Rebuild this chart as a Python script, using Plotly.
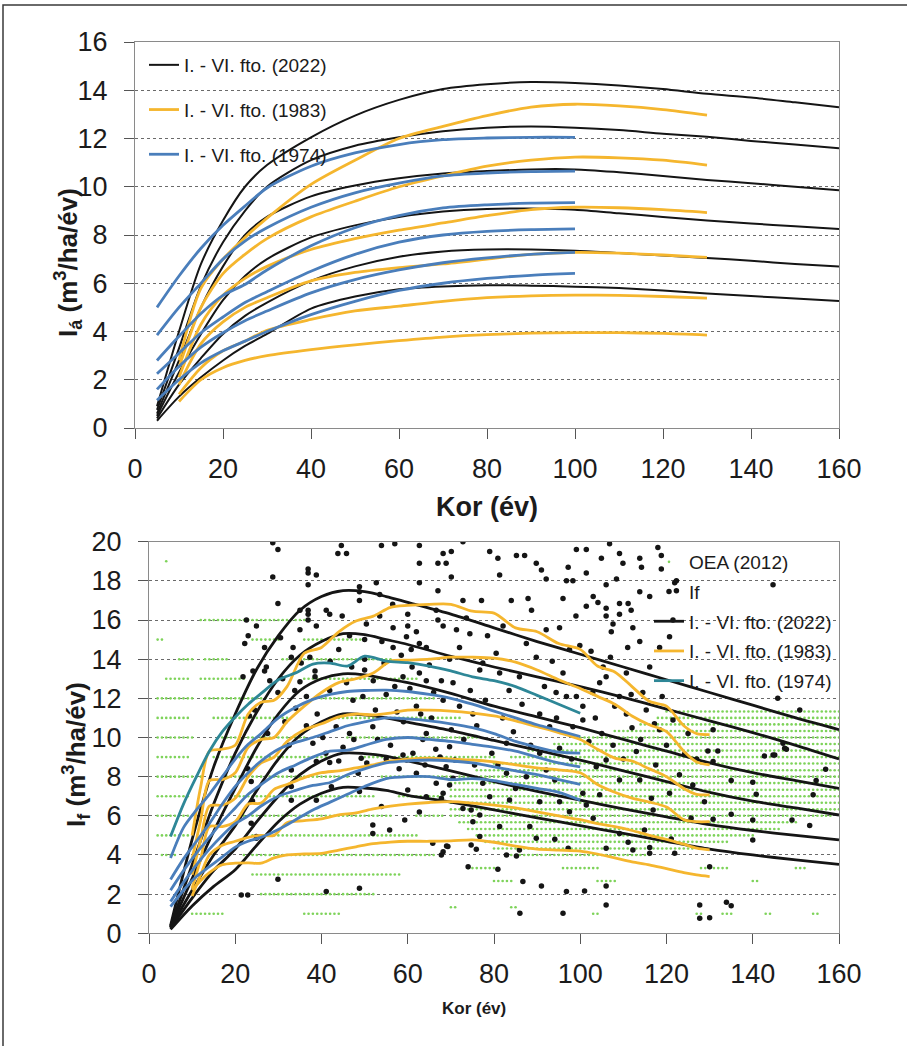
import plotly.graph_objects as go

# ---------------------------------------------------------------- data
# Upper panel: mean annual increment (I_á) by yield class
TOP_AGE_2022 = [5, 10, 15, 20, 25, 30, 40, 50, 60, 70, 80, 90, 100, 110, 120, 130, 140, 150, 160]
TOP_2022 = [
    [0.9, 4.0, 6.8, 8.6, 10.0, 10.9, 12.05, 12.95, 13.6, 14.05, 14.25, 14.34, 14.3, 14.2, 14.05, 13.85, 13.7, 13.5, 13.3],
    [0.75, 3.3, 5.9, 7.7, 9.0, 10.0, 11.1, 11.7, 12.05, 12.3, 12.45, 12.5, 12.45, 12.35, 12.2, 12.07, 11.9, 11.75, 11.6],
    [0.6, 2.8, 5.0, 6.7, 8.0, 8.75, 9.6, 10.05, 10.35, 10.55, 10.65, 10.72, 10.72, 10.6, 10.45, 10.28, 10.15, 10.0, 9.86],
    [0.5, 2.3, 3.9, 5.3, 6.3, 7.0, 7.9, 8.4, 8.75, 8.97, 9.08, 9.1, 9.05, 8.9, 8.75, 8.6, 8.48, 8.36, 8.25],
    [0.4, 1.8, 2.9, 3.9, 4.65, 5.2, 6.1, 6.7, 7.1, 7.32, 7.4, 7.4, 7.35, 7.25, 7.15, 7.05, 6.93, 6.8, 6.69],
    [0.3, 1.3, 2.1, 2.8, 3.4, 3.9, 4.95, 5.45, 5.75, 5.87, 5.92, 5.9, 5.86, 5.8, 5.7, 5.58, 5.47, 5.37, 5.26],
]
TOP_AGE_1983 = [10, 15, 20, 25, 30, 40, 50, 60, 70, 80, 90, 100, 110, 120, 130]
TOP_1983 = [
    [2.8, 5.8, 7.0, 7.9, 8.7, 10.1, 11.1, 12.0, 12.5, 12.95, 13.3, 13.42, 13.35, 13.2, 12.97],
    [2.5, 5.0, 6.4, 7.2, 7.85, 8.75, 9.4, 10.0, 10.45, 10.85, 11.1, 11.23, 11.2, 11.1, 10.9],
    [2.1, 4.3, 5.5, 6.2, 6.7, 7.4, 7.85, 8.2, 8.5, 8.8, 9.05, 9.15, 9.13, 9.05, 8.93],
    [1.8, 3.5, 4.4, 5.0, 5.4, 6.1, 6.45, 6.65, 6.8, 7.0, 7.2, 7.28, 7.25, 7.17, 7.07],
    [1.4, 2.5, 3.2, 3.6, 4.05, 4.5, 4.85, 5.05, 5.25, 5.4, 5.48, 5.51, 5.5, 5.45, 5.38],
    [1.1, 2.0, 2.5, 2.8, 3.0, 3.25, 3.45, 3.62, 3.77, 3.87, 3.93, 3.95, 3.95, 3.92, 3.85],
]
TOP_AGE_1974 = [5, 10, 15, 20, 25, 30, 40, 50, 60, 70, 80, 90, 100]
TOP_1974 = [
    [5.0, 6.3, 7.45, 8.4, 9.2, 9.95, 10.85, 11.4, 11.75, 11.95, 12.02, 12.05, 12.05],
    [3.85, 5.0, 6.0, 7.0, 7.75, 8.3, 9.15, 9.75, 10.15, 10.45, 10.57, 10.63, 10.65],
    [2.8, 3.8, 4.75, 5.5, 5.95, 6.55, 7.55, 8.3, 8.8, 9.12, 9.25, 9.32, 9.34],
    [2.25, 3.1, 3.95, 4.6, 5.2, 5.65, 6.5, 7.2, 7.7, 8.0, 8.15, 8.22, 8.25],
    [1.6, 2.55, 3.35, 3.95, 4.45, 4.85, 5.6, 6.15, 6.55, 6.85, 7.05, 7.2, 7.28],
    [1.15, 2.0, 2.7, 3.2, 3.6, 4.0, 4.7, 5.25, 5.7, 6.0, 6.2, 6.33, 6.41],
]

# Lower panel: current annual increment (I_f) by yield class
BOT_AGE_2022 = [5, 10, 15, 20, 25, 30, 35, 40, 45, 50, 55, 60, 70, 80, 90, 100, 110, 120, 130, 140, 150, 160]
BOT_2022 = [
    [0.4, 4.8, 8.5, 11.2, 13.5, 15.2, 16.5, 17.2, 17.5, 17.45, 17.2, 16.9, 16.3, 15.6, 14.9, 14.25, 13.6, 12.95, 12.3, 11.65, 11.0, 10.4],
    [0.35, 3.5, 6.6, 9.2, 11.3, 13.0, 14.2, 14.9, 15.3, 15.25, 15.0, 14.75, 14.15, 13.6, 13.1, 12.6, 12.05, 11.45, 10.85, 10.25, 9.6, 8.9],
    [0.3, 2.8, 5.2, 7.4, 9.5, 11.2, 12.4, 13.0, 13.25, 13.2, 13.0, 12.8, 12.25, 11.6, 11.05, 10.5, 9.9, 9.3, 8.7, 8.2, 7.8, 7.4],
    [0.3, 2.2, 4.0, 5.5, 7.3, 8.9, 10.1, 10.8, 11.2, 11.15, 11.0, 10.78, 10.35, 9.85, 9.35, 8.85, 8.3, 7.75, 7.2, 6.75, 6.4, 6.04],
    [0.25, 1.8, 3.2, 4.3, 5.7, 7.0, 8.1, 8.8, 9.2, 9.18, 9.05, 8.8, 8.3, 7.75, 7.25, 6.8, 6.35, 5.95, 5.55, 5.25, 5.0, 4.77],
    [0.2, 1.4, 2.4, 3.25, 4.5, 5.7, 6.6, 7.15, 7.45, 7.42, 7.3, 7.05, 6.7, 6.3, 5.9, 5.5, 5.1, 4.7, 4.3, 4.0, 3.75, 3.52],
]
BOT_AGE_1983 = [10, 12, 14, 17, 20, 23, 26, 29, 32, 36, 40, 44, 48, 52, 56, 60, 65, 70, 75, 80,
                85, 90, 95, 100, 104, 108, 112, 116, 120, 124, 127, 130]
BOT_1983 = [
    [5.0, 7.5, 9.3, 9.4, 9.6, 11.2, 11.8, 11.9, 12.6, 14.3, 14.6, 15.4, 15.95, 16.2, 16.65, 16.75, 16.8, 16.8, 16.45, 16.35,
     15.6, 15.4, 14.8, 14.5, 13.65, 13.35, 12.6, 11.85, 11.6, 10.6, 10.2, 10.15],
    [3.8, 5.8, 7.8, 7.85, 8.2, 9.5, 9.9, 10.0, 10.8, 11.6, 12.3, 12.8, 13.0, 13.3, 13.9, 13.95, 14.0, 14.1, 14.1, 14.05,
     13.85, 13.45, 12.95, 12.5, 12.1, 11.7, 11.1, 10.65, 10.3, 9.3, 8.75, 8.6],
    [3.0, 4.8, 6.5, 6.55, 6.9, 8.0, 8.7, 9.0, 9.8, 10.4, 10.7, 11.05, 11.2, 11.15, 11.25, 11.4, 11.4, 11.35, 11.25, 11.1,
     10.85, 10.55, 10.25, 9.9, 9.4, 8.95, 8.8, 8.4, 8.0, 7.4, 7.1, 7.07],
    [2.3, 3.8, 5.45, 5.45, 5.7, 6.6, 6.65, 7.35, 7.6, 7.95, 8.2, 8.3, 8.45, 8.6, 8.8, 8.9, 8.95, 8.9, 8.85, 8.75,
     8.6, 8.45, 8.35, 8.2, 7.6, 7.2, 6.9, 6.7, 6.45, 5.8, 5.7, 5.7],
    [1.9, 3.0, 4.0, 4.5, 4.7, 4.9, 5.0, 5.0, 5.65, 5.75, 5.85, 6.05, 6.15, 6.35, 6.5, 6.6, 6.68, 6.72, 6.65, 6.55,
     6.4, 6.2, 6.0, 5.8, 5.6, 5.45, 5.25, 5.0, 4.8, 4.55, 4.35, 4.26],
    [2.2, 2.7, 3.1, 3.5, 3.58, 3.6, 3.58, 3.85, 4.0, 4.05, 4.08, 4.25, 4.42, 4.58, 4.66, 4.7, 4.7, 4.72, 4.77, 4.65,
     4.45, 4.3, 4.25, 4.2, 4.05, 3.85, 3.65, 3.5, 3.3, 3.1, 2.98, 2.9],
]
BOT_AGE_1974 = [5, 8, 11, 14, 17, 20, 23, 26, 30, 34, 38, 42, 46, 50, 55, 60, 65, 70, 75, 80, 85, 90, 95, 100]
BOT_1974 = [
    [4.95, 6.6, 8.0, 9.3, 10.3, 11.05, 11.7, 12.25, 12.95, 13.3, 13.75, 13.8, 13.65, 14.15, 13.9, 13.82, 13.65, 13.4, 13.1, 12.9, 12.6, 12.15, 11.7, 11.24],
    [3.85, 5.4, 6.3, 7.1, 8.0, 8.9, 9.65, 10.2, 11.0, 11.55, 11.95, 12.2, 12.35, 12.4, 12.42, 12.35, 12.2, 12.0, 11.7, 11.35, 11.0, 10.65, 10.35, 10.05],
    [2.75, 3.8, 4.7, 5.6, 6.6, 7.5, 8.2, 8.8, 9.4, 9.75, 10.0, 10.3, 10.6, 10.8, 11.0, 10.95, 10.85, 10.7, 10.5, 10.2, 9.8, 9.5, 9.25, 9.2],
    [2.2, 3.2, 4.1, 4.9, 5.7, 6.4, 7.1, 7.6, 8.2, 8.6, 9.0, 9.3, 9.35, 9.6, 9.9, 10.0, 9.9, 9.8, 9.65, 9.5, 9.3, 9.0, 8.7, 8.5],
    [1.62, 2.6, 3.5, 4.3, 5.0, 5.6, 6.0, 6.5, 7.0, 7.3, 7.55, 7.7, 8.1, 8.4, 8.7, 8.8, 8.85, 8.8, 8.7, 8.5, 8.3, 8.1, 7.85, 7.6],
    [1.36, 2.2, 2.9, 3.4, 3.9, 4.4, 4.7, 4.9, 5.3, 5.8, 6.3, 6.7, 7.1, 7.5, 7.9, 8.0, 8.0, 7.85, 7.9, 7.8, 7.6, 7.4, 7.2, 6.8],
]

# Measured plots (If): (age, increment)
IF_POINTS = [
    (21.4, 1.96), (22.9, 1.96), (29.9, 2.76), (24.9, 4.85), (24.9, 4.94), (23.7, 5.62), (24.0, 6.76), (23.7, 7.75), (22.9, 8.41),
    (23.3, 11.1), (24.5, 11.4), (21.8, 13.1), (24.1, 13.4), (26.8, 13.4), (27.2, 13.6), (22.2, 14.8), (23.0, 15.2), (26.8, 14.6),
    (24.9, 15.7), (22.6, 16.0), (29.9, 16.85), (28.7, 18.2), (28.7, 19.95), (29.9, 19.6),
    (33.0, 6.8), (33.0, 7.5), (33.0, 8.34), (38.8, 6.8), (38.8, 8.77), (41.9, 8.72), (42.3, 7.49), (41.1, 2.13),
    (29.9, 12.3), (31.5, 10.8), (34.0, 11.5), (33.8, 12.4), (35.0, 12.85), (36.5, 12.1), (36.5, 10.6), (38.0, 9.7), (39.0, 11.2),
    (40.3, 10.0), (41.0, 9.2), (41.9, 12.4), (38.5, 13.1), (38.5, 13.4), (37.3, 14.1), (35.3, 13.8), (33.0, 14.1), (33.4, 14.6),
    (35.0, 15.5), (38.8, 15.7), (35.0, 16.5), (36.9, 16.0), (36.9, 16.3), (36.9, 16.5), (41.1, 16.5), (41.9, 16.3), (36.9, 17.8),
    (36.9, 18.4), (36.9, 18.6), (38.8, 18.3), (43.8, 19.4), (44.6, 19.8), (45.8, 19.4), (42.0, 13.9), (44.0, 14.5),
    (43.4, 10.55), (44.0, 8.8), (45.0, 9.5), (31.0, 13.0), (32.5, 9.6), (27.5, 10.2), (28.0, 12.9), (30.5, 15.1),
    (44.8, 16.2), (46.5, 15.2), (48.8, 17.0), (48.8, 17.45), (48.8, 17.7), (52.7, 17.9), (53.5, 17.3), (53.9, 19.8), (57.0, 19.9),
    (53.5, 16.2), (50.4, 15.8), (50.0, 15.0), (50.0, 14.0), (50.0, 13.45), (47.0, 13.6), (45.8, 12.8), (47.3, 11.9), (49.6, 12.1),
    (46.5, 10.2), (47.5, 9.9), (48.5, 8.17), (49.2, 8.94), (48.8, 7.24), (50.5, 8.7), (48.8, 2.3), (51.9, 5.1), (51.9, 5.53),
    (53.9, 6.47), (55.8, 5.28), (59.3, 5.79), (51.9, 10.55), (52.0, 12.9), (53.0, 9.9), (54.5, 13.8), (55.0, 12.2),
    (55.0, 8.9), (56.0, 9.6), (56.6, 14.6), (56.6, 15.6), (57.5, 11.3), (58.0, 8.4), (58.9, 9.1), (58.9, 13.1), (59.0, 10.8),
    (59.7, 8.85), (59.7, 15.15), (60.0, 7.32), (60.0, 15.7), (60.0, 16.3), (60.5, 12.5), (60.8, 14.5), (61.2, 9.19), (62.0, 8.17),
    (62.0, 11.6), (62.0, 15.4), (62.7, 6.2), (62.7, 13.3), (62.7, 14.8), (62.7, 17.9), (62.7, 18.9), (62.7, 19.8), (63.5, 9.9),
    (64.0, 8.6), (64.3, 6.98), (64.3, 10.2), (64.3, 12.9), (64.3, 14.6), (65.5, 11.0), (65.8, 4.6), (66.5, 9.4), (66.6, 7.66),
    (66.6, 16.5), (67.0, 16.0), (67.0, 17.5), (67.0, 18.9), (67.5, 9.0), (67.8, 4.0), (67.8, 6.9), (67.8, 12.9), (68.2, 4.17),
    (68.2, 7.15), (68.2, 11.9), (68.2, 15.7), (68.2, 19.4), (68.9, 8.51), (68.9, 18.9), (69.0, 4.46), (69.3, 4.43), (69.7, 7.58),
    (69.7, 9.53), (69.7, 14.0), (70.1, 10.4), (70.1, 18.2), (70.1, 19.5), (70.5, 7.92), (70.5, 12.8), (70.9, 8.85),
    (52.5, 11.4), (54.0, 14.9), (57.0, 12.6), (58.5, 14.2), (61.0, 13.6), (63.0, 11.2), (65.0, 13.7), (66.0, 12.3), (56.5, 16.8),
    (71.3, 15.5), (72.0, 11.6), (72.0, 14.6), (72.8, 6.38), (72.8, 17.0), (72.8, 20.0), (73.6, 16.1), (74.0, 3.4), (74.4, 15.3),
    (74.7, 4.51), (74.7, 6.3), (75.1, 5.7), (75.1, 11.2), (75.9, 4.29), (76.7, 4.94), (76.7, 6.04), (76.7, 13.45), (77.1, 17.0),
    (77.4, 7.66), (77.4, 13.8), (79.0, 6.98), (79.0, 19.5), (80.5, 14.3), (80.9, 3.27), (80.9, 8.6), (80.9, 19.15), (81.3, 5.45),
    (81.3, 13.3), (81.3, 18.3), (82.1, 15.7), (82.9, 4.0), (82.9, 8.17), (82.9, 9.7), (83.6, 6.81), (84.0, 17.0), (85.2, 3.95),
    (85.2, 19.3), (85.9, 4.26), (85.9, 13.1), (86.0, 1.02), (86.7, 2.64), (87.1, 19.3), (87.5, 8.0), (87.9, 17.1), (88.3, 5.45),
    (88.7, 16.5), (89.8, 4.85), (89.8, 14.1), (89.8, 18.9), (90.6, 6.72), (90.6, 9.2), (90.6, 11.2), (91.0, 2.42), (91.0, 18.55),
    (91.7, 12.6), (92.1, 8.34), (92.1, 15.5), (92.1, 18.1), (92.9, 10.55), (94.1, 4.8), (94.1, 7.83), (94.4, 12.3), (95.2, 6.72),
    (95.2, 9.45), (95.2, 15.6), (96.0, 1.02), (96.0, 13.3), (96.0, 17.1), (96.8, 2.13), (96.8, 12.1), (96.8, 18.0), (97.2, 4.34),
    (97.2, 18.7), (97.5, 6.21), (97.5, 14.5), (98.3, 10.55), (98.3, 18.0), (99.1, 12.1), (99.1, 19.6), (99.9, 14.7),
    (73.0, 9.9), (74.5, 12.4), (76.0, 10.6), (78.0, 11.9), (79.5, 9.2), (82.0, 11.0), (83.5, 12.4), (84.5, 10.3), (86.5, 11.7),
    (87.5, 14.8), (88.5, 9.6), (93.5, 13.9), (94.5, 11.0), (98.0, 8.9), (99.0, 16.2), (78.5, 15.2), (75.5, 8.6), (85.0, 7.4),
    (100.6, 7.15), (100.6, 10.9), (100.6, 11.6), (101.0, 2.16), (101.4, 6.55), (101.4, 16.7), (101.4, 18.4), (101.4, 19.6),
    (102.9, 12.3), (103.0, 5.87), (103.0, 17.2), (103.7, 8.51), (104.1, 16.9), (104.5, 7.07), (104.5, 12.8), (104.9, 19.15),
    (105.3, 13.6), (106.0, 1.45), (106.0, 2.42), (106.0, 4.34), (106.0, 8.85), (106.0, 13.1), (106.0, 16.2), (106.0, 16.6),
    (106.0, 17.8), (106.8, 19.9), (107.2, 15.4), (107.6, 9.6), (107.6, 15.8), (108.4, 18.1), (109.1, 5.1), (109.1, 7.83),
    (109.1, 12.1), (109.1, 16.3), (109.1, 16.85), (109.1, 19.4), (109.9, 18.9), (110.7, 11.2), (110.7, 13.3), (111.1, 4.65),
    (111.1, 16.85), (111.8, 12.2), (111.8, 16.5), (112.2, 4.26), (112.2, 15.6), (113.0, 9.28), (113.8, 7.83), (113.8, 14.9),
    (113.8, 17.45), (113.8, 19.15), (114.2, 18.7), (114.5, 12.3), (114.9, 5.28), (115.3, 11.4), (116.1, 4.09), (116.1, 4.38),
    (116.1, 13.6), (116.1, 17.2), (116.5, 6.9), (116.9, 6.3), (117.2, 10.7), (118.0, 19.7), (118.4, 10.4), (118.4, 14.6),
    (118.8, 18.6), (118.8, 19.3), (120.7, 7.15), (120.7, 15.15), (121.1, 4.82), (121.5, 10.9), (121.5, 16.0), (121.9, 4.09),
    (121.9, 17.9), (122.3, 17.5), (122.3, 18.0), (124.2, 9.16), (125.7, 5.87), (126.1, 7.58), (127.7, 0.77), (127.7, 1.45),
    (128.8, 6.72), (129.6, 9.31), (130.0, 0.8), (130.0, 3.4), (130.8, 5.82), (130.8, 8.77), (130.8, 10.4), (131.9, 9.31),
    (133.9, 1.58), (135.0, 1.41), (135.0, 6.08), (135.0, 7.8), (140.0, 4.77), (140.0, 5.79), (140.0, 7.71), (140.8, 7.1),
    (142.7, 9.06), (144.7, 9.1), (144.7, 17.8), (145.1, 9.1), (145.8, 12.0), (147.0, 9.7), (147.4, 9.45), (147.8, 9.4),
    (149.1, 5.79), (150.9, 11.4), (153.2, 5.5), (154.0, 7.07), (154.7, 7.8), (156.9, 8.38),
    (102.0, 9.8), (103.5, 11.0), (105.0, 10.2), (108.0, 11.6), (110.0, 8.9), (112.0, 10.5), (114.0, 9.9), (117.5, 8.6),
    (119.0, 12.1), (120.0, 9.6), (123.0, 8.1), (125.0, 10.2), (127.0, 8.9), (102.5, 14.4), (107.0, 14.1), (111.0, 14.6),
]

# Forest inventory (OEA 2012): rows of rounded increments, given as age runs (first, last)
OEA_ROWS = [
    (19.0, [(4, 4)]),
    (16.0, [(12, 36)]),
    (15.0, [(2, 3), (24, 30), (36, 50)]),
    (14.0, [(7, 10), (13, 18), (31, 56)]),
    (13.0, [(4, 9), (12, 22), (36, 62)]),
    (12.0, [(2, 10), (13, 27), (40, 66)]),
    (11.0, [(2, 9), (15, 32), (42, 72)]),
    (10.0, [(2, 10), (16, 36), (46, 76)]),
    (9.0, [(2, 9), (15, 42), (50, 80)]),
    (8.0, [(2, 12), (18, 46), (54, 70)]),
    (7.0, [(2, 9), (20, 52), (58, 68)]),
    (6.0, [(2, 10), (22, 56), (62, 68)]),
    (5.0, [(2, 9), (24, 62)]),
    (4.0, [(3, 6), (22, 66)]),
    (3.0, [(24, 58)]),
    (2.0, [(26, 52)]),
    (1.0, [(10, 17), (36, 44), (103, 104), (127, 128), (133, 135), (143, 144), (154, 155)]),
    (11.33, [(120, 160)]),
    (11.0, [(118, 160)]),
    (10.67, [(114, 160)]),
    (10.33, [(108, 160)]),
    (10.0, [(100, 160)]),
    (9.67, [(94, 160)]),
    (9.33, [(88, 160)]),
    (9.0, [(84, 160)]),
    (8.67, [(80, 160)]),
    (8.33, [(76, 160)]),
    (8.0, [(72, 160)]),
    (7.67, [(70, 160)]),
    (7.33, [(70, 160)]),
    (7.0, [(70, 160)]),
    (6.67, [(70, 160)]),
    (6.33, [(70, 160)]),
    (6.0, [(70, 158)]),
    (5.67, [(72, 150)]),
    (5.33, [(74, 146)]),
    (5.0, [(76, 140)]),
    (4.67, [(78, 134)]),
    (4.33, [(80, 126)]),
    (4.0, [(84, 116)]),
    (3.33, [(74, 80), (96, 104), (128, 134), (150, 152)]),
    (2.67, [(80, 84), (104, 108), (140, 141)]),
    (1.33, [(70, 71), (84, 85)]),
]

NAMES = ["I. - VI. fto. (2022)", "I. - VI. fto. (1983)", "I. - VI. fto. (1974)"]
X_TICKS = [0, 20, 40, 60, 80, 100, 120, 140, 160]

# ---------------------------------------------------------------- style
FONT = "Liberation Sans, Arial, sans-serif"
BLACK = "#151515"
ORANGE = "#F5B62E"
BLUE = "#4A7EBB"
TEAL = "#2E8797"
GREEN = "#7ED35A"
W, H = 907, 1046


def fx(p):
    return p / W


def fy(p):
    return 1 - p / H


fig = go.Figure()


def add_family(ages, series, color, width, name, group, xa, ya, legend, first_color=None):
    for i, vals in enumerate(series):
        c = first_color if (first_color and i == 0) else color
        fig.add_trace(go.Scatter(
            x=ages, y=vals, mode="lines", xaxis=xa, yaxis=ya,
            line=dict(color=c, width=width, shape="spline", smoothing=0.8),
            name=name, legendgroup=group, showlegend=(i == 0), legend=legend,
            hoverinfo="skip",
        ))


# upper panel
add_family(TOP_AGE_2022, TOP_2022, BLACK, 2.0, NAMES[0], "t2022", "x", "y", "legend")
add_family(TOP_AGE_1983, TOP_1983, ORANGE, 2.8, NAMES[1], "t1983", "x", "y", "legend")
add_family(TOP_AGE_1974, TOP_1974, BLUE, 2.8, NAMES[2], "t1974", "x", "y", "legend")

# lower panel: inventory dots, measured plots, then the curves
oea_x, oea_y = [], []
for yv, runs in OEA_ROWS:
    for a, b in runs:
        for age in range(a, b + 1):
            oea_x.append(age)
            oea_y.append(yv)
fig.add_trace(go.Scatter(
    x=oea_x, y=oea_y, mode="markers", xaxis="x2", yaxis="y2",
    marker=dict(color=GREEN, size=2.6, line=dict(width=0)),
    name="OEA (2012)", legend="legend2", legendgroup="oea", hoverinfo="skip",
))
fig.add_trace(go.Scatter(
    x=[p[0] for p in IF_POINTS], y=[p[1] for p in IF_POINTS], mode="markers",
    xaxis="x2", yaxis="y2",
    marker=dict(color=BLACK, size=5.5, line=dict(width=0)),
    name="If", legend="legend2", legendgroup="if", hoverinfo="skip",
))
add_family(BOT_AGE_2022, BOT_2022, BLACK, 2.8, NAMES[0], "b2022", "x2", "y2", "legend2")
add_family(BOT_AGE_1983, BOT_1983, ORANGE, 2.8, NAMES[1], "b1983", "x2", "y2", "legend2")
add_family(BOT_AGE_1974, BOT_1974, BLUE, 2.8, NAMES[2], "b1974", "x2", "y2", "legend2", first_color=TEAL)

axis_common = dict(
    showline=True, linecolor="#8a8a8a", linewidth=1.2, mirror=True,
    ticks="outside", ticklen=10, tickwidth=1.2, tickcolor="#555",
    tickfont=dict(family=FONT, size=27, color="#1b1b1b"),
    zeroline=False, fixedrange=True, automargin=False,
)
xaxis_common = dict(axis_common, range=[0, 160], tickvals=X_TICKS, showgrid=False,
                    ticklabelstandoff=6)
yaxis_common = dict(axis_common, showgrid=True, gridcolor="#6a6a6a", griddash="dot",
                    gridwidth=1, ticklabelstandoff=11)

fig.update_layout(
    width=W, height=H, autosize=False,
    margin=dict(l=0, r=0, t=0, b=0, pad=0, autoexpand=False),
    paper_bgcolor="white", plot_bgcolor="white",
    font=dict(family=FONT, color="#1b1b1b"),
    xaxis=dict(xaxis_common, domain=[fx(135), fx(839)], anchor="y"),
    yaxis=dict(yaxis_common, domain=[fy(428), fy(42)], anchor="x", range=[0, 16], dtick=2),
    xaxis2=dict(xaxis_common, domain=[fx(149), fx(839)], anchor="y2"),
    yaxis2=dict(yaxis_common, domain=[fy(933.3), fy(541.7)], anchor="x2", range=[0, 20], dtick=2),
    legend=dict(
        x=fx(144), y=fy(46), xanchor="left", yanchor="top",
        bgcolor="rgba(0,0,0,0)", font=dict(family=FONT, size=19, color="#1b1b1b"),
        tracegroupgap=17, itemwidth=30, traceorder="grouped",
    ),
    legend2=dict(
        x=fx(649), y=fy(543), xanchor="left", yanchor="top",
        bgcolor="rgba(0,0,0,0)", font=dict(family=FONT, size=19, color="#1b1b1b"),
        tracegroupgap=2, itemwidth=30, traceorder="grouped",
    ),
    showlegend=True,
    shapes=[dict(type="rect", xref="paper", yref="paper",
                 x0=fx(3), x1=1.05, y0=-0.05, y1=fy(5),
                 line=dict(color="#3a3a3a", width=1.5), layer="below")],
    annotations=[
        dict(text="<b>Kor (év)</b>", x=fx(487), y=fy(507), xref="paper", yref="paper",
             xanchor="center", yanchor="middle", showarrow=False,
             font=dict(family=FONT, size=27, color="#1b1b1b")),
        dict(text="<b>I<sub>á</sub> (m<sup>3</sup>/ha/év)</b>", x=fx(68), y=fy(263),
             xref="paper", yref="paper", xanchor="center", yanchor="middle",
             textangle=-90, showarrow=False,
             font=dict(family=FONT, size=26, color="#1b1b1b")),
        dict(text="<b>Kor (év)</b>", x=fx(474), y=fy(1008), xref="paper", yref="paper",
             xanchor="center", yanchor="middle", showarrow=False,
             font=dict(family=FONT, size=17, color="#1b1b1b")),
        dict(text="<b>I<sub>f</sub> (m<sup>3</sup>/ha/év)</b>", x=fx(76), y=fy(755),
             xref="paper", yref="paper", xanchor="center", yanchor="middle",
             textangle=-90, showarrow=False,
             font=dict(family=FONT, size=26, color="#1b1b1b")),
    ],
)

fig.write_html("out.html")
